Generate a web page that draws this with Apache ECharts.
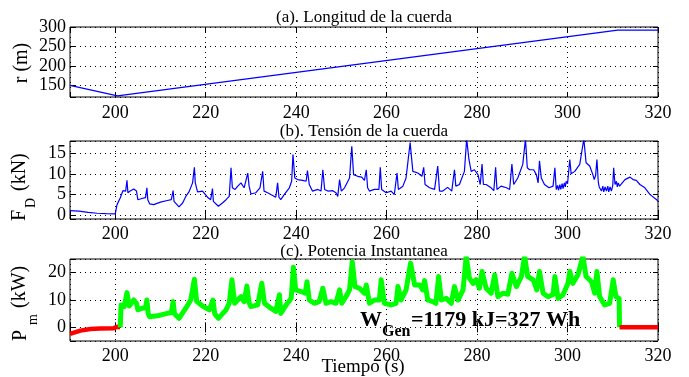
<!DOCTYPE html>
<html><head><meta charset="utf-8">
<script src="https://cdn.jsdelivr.net/npm/echarts@6/dist/echarts.min.js"></script>
<style>html,body{margin:0;padding:0;background:#fff}#c{width:689px;height:377px}</style>
</head><body><div id="c"></div>
<script>
// Panel (a): rope length
const timeR = [190, 200.5, 311.1, 320];
const lengthR = [150, 123, 292, 292];

// Panel (b): rope tension (kN)
const timeF = [190.0,192.0,194.0,196.0,198.0,200.0,200.4,201.1,201.7,202.3,202.6,202.8,203.3,204.1,204.7,205.0,205.9,206.7,207.0,207.2,207.6,208.5,210.0,211.5,212.4,212.8,213.0,214.1,214.9,215.6,216.3,217.1,217.5,217.7,218.2,219.3,220.4,221.1,221.5,221.7,222.1,222.8,223.7,224.5,225.2,225.6,225.9,226.5,227.1,227.8,228.5,229.3,229.6,230.0,231.1,232.0,232.6,232.9,233.7,234.4,235.5,235.9,236.2,236.6,237.4,238.5,239.0,239.3,239.7,240.3,241.4,242.2,242.5,242.9,243.6,244.8,245.5,245.9,246.3,247.0,248.1,248.8,249.2,249.6,250.0,250.7,251.8,252.3,252.7,253.6,254.5,255.1,255.5,255.8,256.2,257.3,258.3,258.6,258.9,259.9,261.0,261.7,262.0,262.3,262.6,263.6,264.3,265.2,265.8,266.9,267.8,268.2,268.5,269.5,270.6,271.0,271.3,271.7,272.4,273.5,274.4,275.0,275.3,276.1,277.2,277.7,278.2,278.7,279.4,280.2,280.7,281.1,281.4,282.0,283.1,283.7,284.1,284.4,285.3,286.5,287.2,287.7,288.1,289.0,290.1,290.7,291.1,291.6,292.5,293.1,293.5,293.8,294.2,294.9,295.9,296.8,297.2,297.5,297.8,298.0,298.3,298.5,298.8,299.0,299.3,299.5,299.7,300.0,300.5,300.8,301.6,302.7,303.6,304.1,304.9,305.6,305.9,306.2,306.5,306.8,307.0,307.5,307.8,308.0,308.3,308.6,308.9,309.1,309.4,309.7,310.0,310.2,310.5,310.8,311.0,311.2,311.5,312.7,313.8,314.5,315.2,316.0,317.1,318.2,319.7,320.0];
const tensionF = [1.05,0.9,0.6,0.4,0.3,0.25,2.5,4.1,5.9,5.8,8.4,5.4,5.8,6.3,5.8,3.7,4.0,4.2,6.6,3.7,2.7,2.5,3.1,3.5,3.7,5.9,3.3,1.95,2.9,4.5,5.6,7.8,11.6,7.8,5.6,5.8,4.3,3.7,6.4,3.3,3.3,2.1,2.9,3.7,4.5,11.5,6.6,6.2,7.0,7.8,6.6,10.2,7.0,5.1,5.4,6.6,10.6,5.8,5.4,4.96,4.3,7.8,4.3,3.7,5.0,6.6,8.2,14.7,9.0,8.6,8.4,8.2,10.8,7.4,5.8,6.2,5.8,11.0,6.2,5.8,5.9,5.4,4.5,8.6,5.8,6.6,9.0,16.7,9.8,9.4,9.2,8.4,11.0,6.6,5.8,6.2,6.2,11.6,6.2,5.4,5.8,4.96,5.4,10.2,6.2,7.0,9.0,17.6,10.6,10.2,9.4,11.6,7.4,6.6,6.2,5.8,11.9,5.8,5.8,6.7,5.8,11.0,7.0,7.4,10.6,18.5,13.5,10.6,11.0,9.8,7.4,12.4,7.4,7.4,6.6,5.9,11.6,6.2,7.0,6.6,6.2,12.4,7.4,9.0,12.3,18.5,11.5,11.0,11.0,9.8,7.8,13.2,9.0,7.4,6.6,7.0,11.5,6.2,7.2,6.0,7.4,6.2,7.6,6.4,7.8,6.8,8.2,7.6,13.5,10.0,10.6,12.3,18.5,12.7,11.9,9.8,8.6,9.6,13.5,8.0,6.8,5.8,7.0,5.6,6.8,5.8,7.0,5.6,6.8,5.8,7.2,11.5,7.4,8.2,6.8,7.8,7.0,8.6,9.2,8.6,8.4,7.4,6.6,5.0,3.7,3.3];

// Panel (c): instantaneous power (kW)
const timeRed1 = [190.0,192.3,194.5,196.7,199.7,200.4,200.8,201.1];
const powerRed1 = [-2.4,-1.2,-0.6,-0.4,-0.3,0.2,-0.4,0.0];
const timeP = [201.1,201.3,202.0,202.6,203.1,204.1,204.7,205.0,205.9,206.7,207.0,207.3,207.6,209.3,211.5,212.4,212.8,213.1,214.1,215.6,216.7,217.5,218.0,219.3,220.8,221.6,222.0,222.8,224.5,225.2,225.8,226.4,227.1,227.8,228.5,229.1,229.6,230.0,231.5,232.4,233.0,234.4,235.5,236.3,236.6,237.8,238.9,239.4,239.9,241.1,242.0,242.4,242.9,244.0,245.1,245.9,246.6,247.7,248.8,249.6,250.1,251.0,251.8,252.4,253.0,254.0,255.1,255.5,256.2,257.3,258.4,258.8,259.5,261.0,262.1,262.5,263.2,264.3,265.3,266.2,267.3,268.0,268.4,269.1,270.2,270.9,271.5,272.1,273.2,274.3,275.0,275.8,276.9,277.6,278.3,279.1,279.8,280.5,281.1,282.0,283.1,283.9,284.6,285.7,286.8,287.7,288.7,289.8,290.5,291.2,292.4,293.2,293.8,294.6,295.7,296.8,297.2,297.9,299.0,300.1,300.5,301.2,302.3,303.4,304.1,305.3,306.0,306.5,307.1,308.2,309.3,310.1,310.7,311.4,311.5];
const powerP = [0.0,8.2,7.6,12.7,7.8,10.0,8.8,6.4,7.0,7.2,10.0,5.0,3.9,4.2,5.1,5.4,9.4,5.0,3.3,7.0,10.0,17.6,9.5,7.8,6.4,10.0,5.0,3.3,6.4,8.8,17.4,8.8,10.0,11.2,9.4,15.1,9.0,7.6,8.2,16.1,8.8,7.0,5.8,11.9,5.1,8.2,10.6,22.0,13.7,13.1,12.5,16.7,10.0,8.8,9.4,14.3,8.8,9.4,8.8,13.7,8.8,11.2,13.7,24.0,14.9,14.3,12.5,15.5,8.8,10.0,10.0,17.4,8.8,8.2,8.8,14.9,10.0,13.7,23.5,15.5,15.5,13.7,17.1,10.0,9.4,8.8,18.6,10.0,10.6,8.8,14.9,10.0,13.7,26,18.0,16.1,17.4,14.3,20.4,14.3,12.5,19.2,11.2,12.5,12.1,19.8,14.9,18.6,26,18.6,17.4,13.7,20.4,12.5,11.2,12.0,18.6,10.6,11.9,16.1,20.4,16.1,19.2,26,18.6,16.7,12.5,20.4,11.2,8.2,8.8,17.4,11.2,10.6,0.0];
const timeRed2 = [311.5, 320];
const powerRed2 = [0.0, 0.0];

const xTicks = [200, 220, 240, 260, 280, 300, 320];
const yTicksA = [150, 200, 250, 300];
const yTicksB = [0, 5, 10, 15];
const yTicksC = [0, 10, 20];

const FONT = '"Liberation Serif", "Times New Roman", serif';
const zip = (a, b) => a.map((v, i) => [v, b[i]]);

const grids = [
  {left: 70, right: 31, top: 27, height: 70},
  {left: 70, right: 31, top: 141, height: 78},
  {left: 70, right: 31, top: 259, height: 82}
].map(g => Object.assign(g, {show: true, borderColor: '#000', borderWidth: 1, backgroundColor: 'transparent', containLabel: false}));

const xAxes = [], yAxes = [];
const xMargins = [7, 6, 6];
const yDefs = [
  {min: 120, max: 300, step: 50, ticks: yTicksA},
  {min: -1, max: 18, step: 5, ticks: yTicksB},
  {min: -5, max: 25, step: 10, ticks: yTicksC}
];
for (let g = 0; g < 3; g++) {
  ['bottom', 'top'].forEach(pos => {
    xAxes.push({
      type: 'value', gridIndex: g, position: pos, min: 190, max: 320, minInterval: 20, maxInterval: 20,
      axisLine: {show: false},
      axisTick: {show: true, inside: true, length: 5, lineStyle: {color: '#000', width: 1}},
      axisLabel: {show: pos === 'bottom', margin: xMargins[g], color: '#000', fontFamily: FONT, fontSize: 18,
        showMinLabel: true, showMaxLabel: true,
        formatter: v => xTicks.includes(v) ? String(v) : ''},
      splitLine: {show: pos === 'bottom', lineStyle: {color: '#000', width: 1, type: [1, 4]}}
    });
  });
  const d = yDefs[g];
  ['left', 'right'].forEach(pos => {
    yAxes.push({
      type: 'value', gridIndex: g, position: pos, min: d.min, max: d.max, minInterval: d.step, maxInterval: d.step,
      axisLine: {show: false},
      axisTick: {show: true, inside: true, length: 5, lineStyle: {color: '#000', width: 1}},
      axisLabel: {show: pos === 'left', margin: 4, color: '#000', fontFamily: FONT, fontSize: 18,
        showMinLabel: true, showMaxLabel: true,
        formatter: v => d.ticks.includes(v) ? String(v) : ''},
      splitLine: {show: pos === 'left', lineStyle: {color: '#000', width: 1, type: [1, 4]}}
    });
  });
}

const txt = (x, y, text, font, opts) => Object.assign({
  type: 'text', x, y, z: 100,
  style: Object.assign({text, font, fill: '#000', align: 'center', verticalAlign: 'middle'}, opts || {})
});
const rot = (x, y, text, font, align) => ({
  type: 'text', x, y, z: 100, rotation: Math.PI / 2,
  style: {text, font, fill: '#000', align: align || 'left', verticalAlign: 'middle'}
});

const graphics = [
  txt(364, 18, '(a). Longitud de la cuerda', '17px ' + FONT),
  txt(364, 132, '(b). Tensión de la cuerda', '17px ' + FONT),
  txt(364, 252, '(c). Potencia Instantanea', '17px ' + FONT),
  rot(22, 63, 'r (m)', '20px ' + FONT, 'center'),
  rot(20, 221, 'F', '20px ' + FONT),
  rot(31, 208, 'D', '14px ' + FONT),
  rot(20, 196, ' (kN)', '20px ' + FONT),
  rot(21, 341, 'P', '20px ' + FONT),
  rot(33, 325, 'm', '14px ' + FONT),
  rot(20, 313, ' (kW)', '20px ' + FONT),
  txt(363, 367, 'Tiempo (s)', '19px ' + FONT),
  txt(360, 320, 'W', 'bold 22px ' + FONT, {align: 'left'}),
  txt(382, 332, 'Gen', 'bold 16px ' + FONT, {align: 'left'}),
  txt(411, 320, '=1179 kJ=327 Wh', 'bold 22px ' + FONT, {align: 'left'})
];

const chart = echarts.init(document.getElementById('c'), null, {renderer: 'canvas'});
chart.setOption({
  backgroundColor: '#fff',
  animation: false,
  grid: grids,
  xAxis: xAxes,
  yAxis: yAxes,
  graphic: graphics,
  series: [
    {type: 'line', xAxisIndex: 0, yAxisIndex: 0, data: zip(timeR, lengthR), showSymbol: false, lineStyle: {color: '#0000ff', width: 1.2}, clip: true},
    {type: 'line', xAxisIndex: 2, yAxisIndex: 2, data: zip(timeF, tensionF), showSymbol: false, lineStyle: {color: '#0000ff', width: 1.2}, clip: true},
    {type: 'line', xAxisIndex: 4, yAxisIndex: 4, data: zip(timeRed1, powerRed1), showSymbol: false, lineStyle: {color: '#ff0000', width: 4.5}, clip: true},
    {type: 'line', xAxisIndex: 4, yAxisIndex: 4, data: zip(timeP, powerP), showSymbol: false, lineStyle: {color: '#00ff00', width: 5, join: 'round'}, clip: true},
    {type: 'line', xAxisIndex: 4, yAxisIndex: 4, data: zip(timeRed2, powerRed2), showSymbol: false, lineStyle: {color: '#ff0000', width: 4.5}, clip: true}
  ]
});
</script>
</body></html>
